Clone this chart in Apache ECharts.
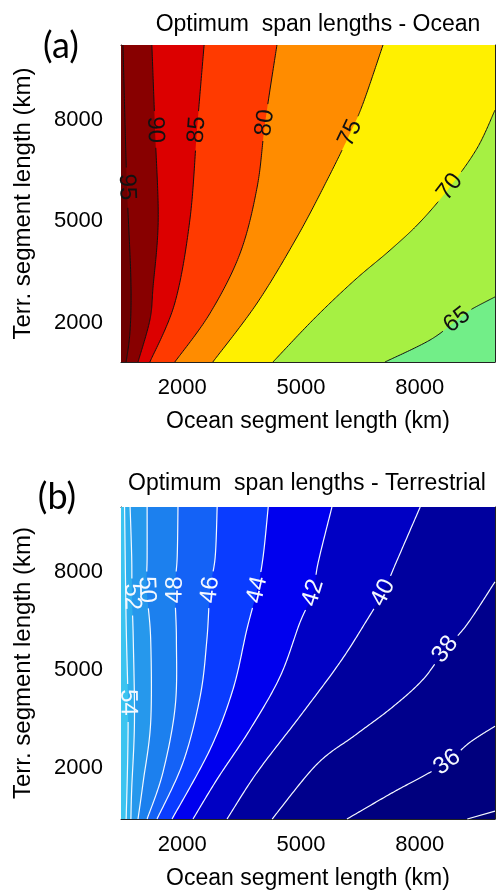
<!DOCTYPE html>
<html><head><meta charset="utf-8">
<script src="https://cdn.jsdelivr.net/npm/echarts@6/dist/echarts.min.js"></script>
<style>html,body{margin:0;padding:0;background:#fff}#c{width:496px;height:891px}</style>
</head><body><div id="c"></div>
<script>
// ---- axis ticks ----
const xTickLabels = [2000, 5000, 8000];
const yTickLabels = [2000, 5000, 8000];
const tickMarks = [2000, 4000, 6000, 8000];
const xRange = [450, 9900];
const oceanYRange = [850, 10200];
const terrYRange = [450, 10000];

// ---- (a) Ocean: contour levels, contour paths [x, y] ----
const oceanLevels = [65, 70, 75, 80, 85, 90, 95];
const oceanC65 = [[9900,2770],[9270,2380],[8940,2090],[8260,1500],[7120,850]];
const oceanC70 = [[9900,8280],[9450,7160],[8760,6010],[8010,4980],[7250,4150],[6360,3270],[5350,2150],[4290,850]];
const oceanC75 = [[7070,10200],[6570,8490],[6240,7600],[5660,6220],[4900,4540],[3890,2590],[2770,850]];
const oceanC80 = [[4390,10200],[4090,7900],[3890,6010],[3460,4060],[2700,2290],[1810,850]];
const oceanC85 = [[2550,10200],[2370,7700],[2190,5040],[1810,2590],[1180,850]];
const oceanC90 = [[1230,10200],[1310,7700],[1390,5040],[1260,3060],[1180,2090],[880,850]];
const oceanC95 = [[500,10200],[550,7990],[600,6010],[700,3270],[680,1790],[580,850]];
const oceanContours = [oceanC65, oceanC70, oceanC75, oceanC80, oceanC85, oceanC90, oceanC95];
const oceanLabelAt = [[8940,2090],[8760,6010],[6240,7600],[4090,7900],[2370,7700],[1310,7700],[600,6010]];
// band colours: below first level, then between successive levels, then above last
const oceanBands = ['#72ee88','#a6f043','#fff000','#ff8c00','#ff3a00','#dc0000','#880000','#6e0000'];

// ---- (b) Terrestrial ----
const terrLevels = [34, 36, 38, 40, 42, 44, 46, 48, 50, 52, 54];
const terrC34 = [[9900,690],[9200,450]];
const terrC36 = [[9900,3290],[9270,2800],[8690,2190],[8080,1760],[7300,1250],[6160,450]];
const terrC38 = [[9900,7710],[9190,6400],[8640,5640],[8080,4720],[7300,3865],[6360,3010],[5400,2126],[4270,450]];
const terrC40 = [[8010,10000],[7430,8380],[7070,7375],[6670,6550],[5980,5240],[4970,3590],[3890,1880],[3130,450]];
const terrC42 = [[5780,10000],[5430,8290],[5300,7375],[4970,6460],[4470,4810],[3710,3190],[2880,1670],[2270,450]];
const terrC44 = [[4170,10000],[4040,8470],[3890,7467],[3630,6250],[3280,4420],[2700,2580],[1740,450]];
const terrC46 = [[2880,10000],[2830,8470],[2700,7467],[2620,5940],[2450,4200],[2020,2190],[1360,450]];
const terrC48 = [[1890,10000],[1870,8470],[1815,7467],[1850,5940],[1820,3900],[1510,1880],[1110,450]];
const terrC50 = [[1110,10000],[1110,8470],[1100,7467],[1200,5940],[1200,3410],[1010,1580],[880,450]];
const terrC52 = [[680,10000],[720,8470],[728,7253],[760,5940],[790,3410],[720,1360],[700,450]];
const terrC54 = [[540,10000],[580,6460],[627,4018],[620,2370],[580,450]];
const terrContours = [terrC34, terrC36, terrC38, terrC40, terrC42, terrC44, terrC46, terrC48, terrC50, terrC52, terrC54];
const terrLabelAt = [null,[8690,2190],[8640,5640],[7070,7375],[5300,7375],[3890,7467],[2700,7467],[1815,7467],[1100,7467],[728,7253],[627,4018]];
const terrBands = ['#000070','#00007e','#00008c','#00009e','#0000c4','#0000ee','#0a3cff','#1462f6','#1c80ee','#2698ec','#2eaeee','#3cc4f0'];

const FONT = '"Liberation Sans", Arial, sans-serif';

function spline(pts, seg) {
  const n = pts.length;
  if (n < 3) return pts.slice();
  const out = [];
  for (let i = 0; i < n - 1; i++) {
    const p0 = pts[Math.max(i - 1, 0)], p1 = pts[i], p2 = pts[i + 1], p3 = pts[Math.min(i + 2, n - 1)];
    for (let k = 0; k < seg; k++) {
      const t = k / seg, t2 = t * t, t3 = t2 * t;
      const f = j => 0.5 * (2 * p1[j] + (-p0[j] + p2[j]) * t + (2 * p0[j] - 5 * p1[j] + 4 * p2[j] - p3[j]) * t2 + (-p0[j] + 3 * p1[j] - 3 * p2[j] + p3[j]) * t3);
      out.push([f(0), f(1)]);
    }
  }
  out.push(pts[n - 1]);
  return out;
}

function makeFill(contours, bands, yr) {
  return function (params, api) {
    const i = params.dataIndex;
    const cs = params.coordSys;
    const children = [];
    if (i === 0) children.push({ type: 'rect', shape: { x: cs.x, y: cs.y, width: cs.width, height: cs.height }, style: { fill: bands[0] } });
    const c = contours[i];
    const pts = spline(c.map(p => api.coord(p)), 24);
    pts.push(api.coord([xRange[0], yr[0]]));
    pts.push(api.coord([xRange[0], yr[1]]));
    if (c[0][0] >= xRange[1]) pts.push(api.coord([xRange[1], yr[1]]));
    children.push({ type: 'polygon', shape: { points: pts }, style: { fill: bands[i + 1] } });
    return { type: 'group', children };
  };
}

function makeLines(contours, labels, levels, color, lw, fontSize) {
  return function (params, api) {
    const i = params.dataIndex;
    const px = spline(contours[i].map(p => api.coord(p)), 30);
    const children = [];
    let lc = null, rot = 0;
    const r = fontSize * 0.62 + 3;
    if (labels[i]) {
      lc = api.coord(labels[i]);
      let best = 0, bd = 1e12;
      px.forEach((p, k) => { const d = (p[0] - lc[0]) ** 2 + (p[1] - lc[1]) ** 2; if (d < bd) { bd = d; best = k; } });
      const a = px[Math.max(best - 4, 0)], b = px[Math.min(best + 4, px.length - 1)];
      let ang = Math.atan2(-(b[1] - a[1]), b[0] - a[0]);
      if (ang > Math.PI / 2) ang -= Math.PI;
      if (ang <= -Math.PI / 2) ang += Math.PI;
      rot = ang;
    }
    let seg = [];
    const flush = () => { if (seg.length > 1) children.push({ type: 'polyline', shape: { points: seg }, style: { stroke: color, lineWidth: lw, fill: null } }); seg = []; };
    for (const p of px) {
      if (lc && Math.hypot(p[0] - lc[0], p[1] - lc[1]) < r) flush();
      else seg.push(p);
    }
    flush();
    if (lc) children.push({ type: 'text', x: lc[0], y: lc[1], rotation: rot,
      style: { text: String(levels[i]), fill: color, font: fontSize + 'px ' + FONT, align: 'center', verticalAlign: 'middle' } });
    return { type: 'group', children };
  };
}

const axisCol = '#222';
function xAx(grid, pos, withLabels) {
  return {
    gridIndex: grid, type: 'value', min: xRange[0], max: xRange[1], position: pos,
    axisLine: { show: true, onZero: false, lineStyle: { color: axisCol, width: 1 } },
    axisTick: { show: true, inside: true, length: 5, customValues: tickMarks, lineStyle: { color: axisCol } },
    axisLabel: withLabels ? { show: true, customValues: xTickLabels, margin: 15, fontSize: 22, color: '#000', fontFamily: FONT, formatter: v => String(v) } : { show: false },
    splitLine: { show: false },
    name: withLabels ? 'Ocean segment length (km)' : '', nameLocation: 'middle', nameGap: 48,
    nameTextStyle: { fontSize: 23, color: '#000', fontFamily: FONT }
  };
}
function yAx(grid, yr, pos, withLabels) {
  return {
    gridIndex: grid, type: 'value', min: yr[0], max: yr[1], position: pos,
    axisLine: { show: true, onZero: false, lineStyle: { color: axisCol, width: 1 } },
    axisTick: { show: true, inside: true, length: 5, customValues: tickMarks, lineStyle: { color: axisCol } },
    axisLabel: withLabels ? { show: true, customValues: yTickLabels, margin: 18, fontSize: 22, color: '#000', fontFamily: FONT, formatter: v => String(v) } : { show: false },
    splitLine: { show: false },
    name: withLabels ? 'Terr. segment length (km)' : '', nameLocation: 'middle', nameGap: 86, nameRotate: 90,
    nameTextStyle: { fontSize: 24, color: '#000', fontFamily: FONT }
  };
}

const chart = echarts.init(document.getElementById('c'), null, { renderer: 'canvas' });
chart.setOption({
  animation: false,
  backgroundColor: '#fff',
  grid: [
    { left: 121, top: 45, width: 374, height: 317 },
    { left: 121, top: 507, width: 374, height: 313 }
  ],
  xAxis: [xAx(0, 'bottom', true), xAx(0, 'top', false), xAx(1, 'bottom', true), xAx(1, 'top', false)],
  yAxis: [yAx(0, oceanYRange, 'left', true), yAx(0, oceanYRange, 'right', false), yAx(1, terrYRange, 'left', true), yAx(1, terrYRange, 'right', false)],
  series: [
    { type: 'custom', xAxisIndex: 0, yAxisIndex: 0, clip: true, z: 1,
      data: oceanContours.map((c, i) => [c[0][0], c[0][1], oceanLevels[i]]),
      renderItem: makeFill(oceanContours, oceanBands, oceanYRange) },
    { type: 'custom', xAxisIndex: 0, yAxisIndex: 0, clip: false, z: 3,
      data: oceanContours.map((c, i) => [c[0][0], c[0][1], oceanLevels[i]]),
      renderItem: makeLines(oceanContours, oceanLabelAt, oceanLevels, '#111', 1, 24) },
    { type: 'custom', xAxisIndex: 2, yAxisIndex: 2, clip: true, z: 1,
      data: terrContours.map((c, i) => [c[0][0], c[0][1], terrLevels[i]]),
      renderItem: makeFill(terrContours, terrBands, terrYRange) },
    { type: 'custom', xAxisIndex: 2, yAxisIndex: 2, clip: false, z: 3,
      data: terrContours.map((c, i) => [c[0][0], c[0][1], terrLevels[i]]),
      renderItem: makeLines(terrContours, terrLabelAt, terrLevels, '#f4f8ff', 1.2, 24) }
  ],
  graphic: [
    { type: 'text', x: 318, y: 25, style: { text: 'Optimum  span lengths - Ocean', font: '23px ' + FONT, fill: '#000', align: 'center', verticalAlign: 'middle' } },
    { type: 'text', x: 307, y: 484, style: { text: 'Optimum  span lengths - Terrestrial', font: '23px ' + FONT, fill: '#000', align: 'center', verticalAlign: 'middle' } },
    { type: 'text', x: 61, y: 46, style: { text: '(a)', font: '36px Lato, "Open Sans", sans-serif', fill: '#000', align: 'center', verticalAlign: 'middle' } },
    { type: 'text', x: 57, y: 497, style: { text: '(b)', font: '36px Lato, "Open Sans", sans-serif', fill: '#000', align: 'center', verticalAlign: 'middle' } }
  ]
});
</script></body></html>
